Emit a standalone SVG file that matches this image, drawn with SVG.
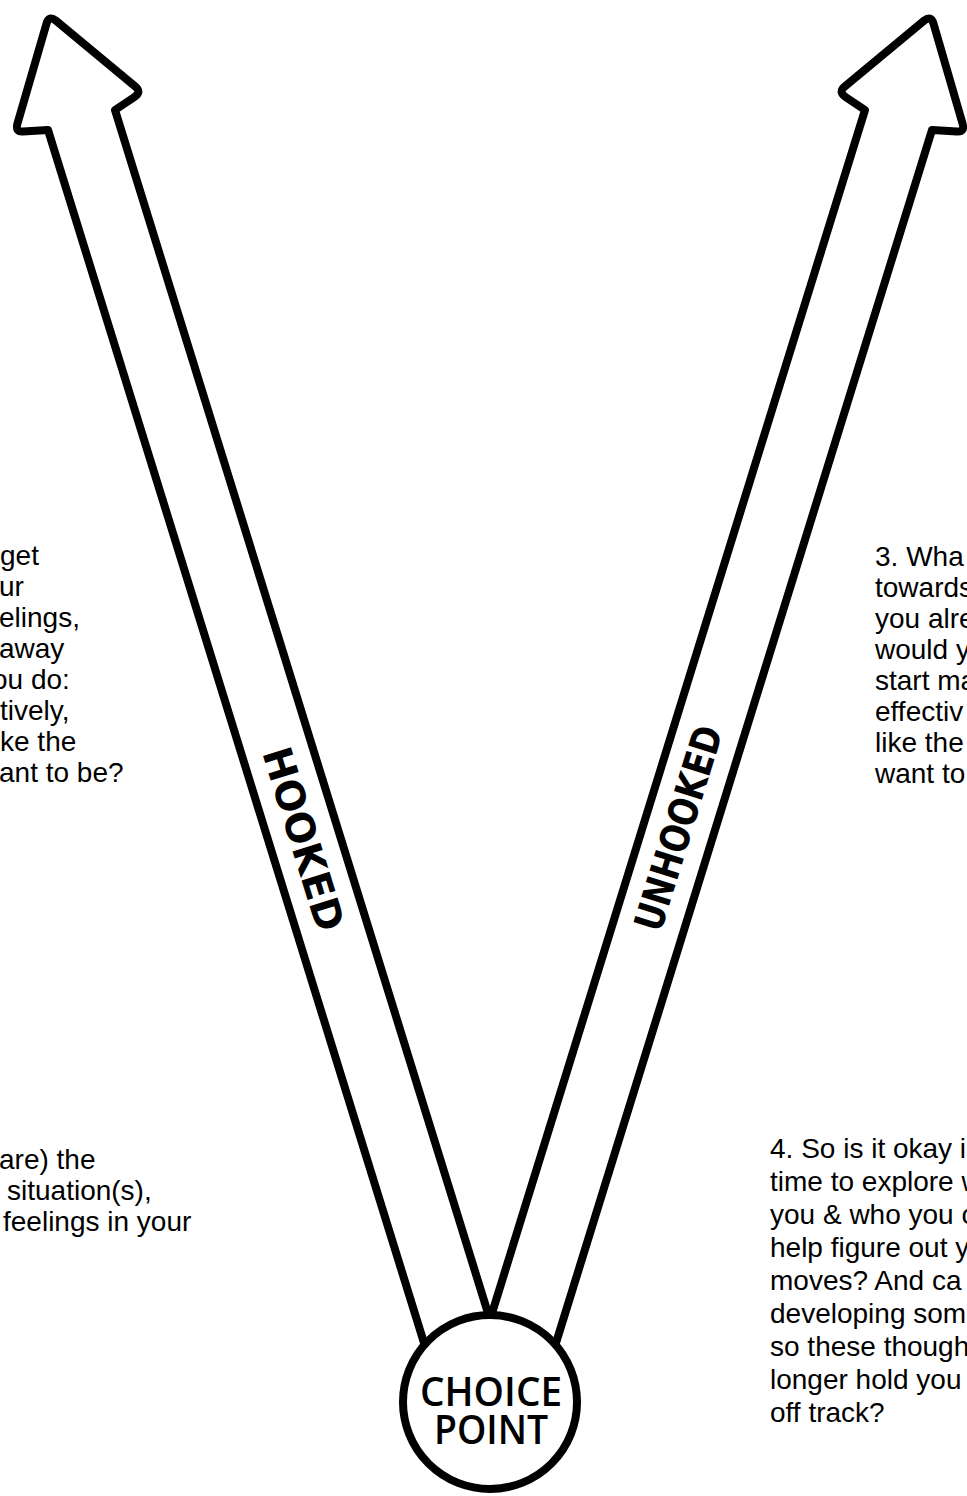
<svg xmlns="http://www.w3.org/2000/svg" width="967" height="1496" viewBox="0 0 967 1496">
<style>
.arrow{fill:#fff;stroke:#000;stroke-width:8;stroke-linejoin:round}
.body{font-family:"Liberation Sans",Arial,sans-serif;font-size:28px;fill:#000}
.lab{font-family:"DejaVu Sans",sans-serif;font-weight:bold;font-size:40px;fill:#000}
.cp{font-family:"Open Sans","Liberation Sans",sans-serif;font-weight:600;font-size:39px;fill:#000}
</style>
<defs>
<path id="arr" d="M48,130 L23,131.5 Q15,132 17.5,123.4 L46.5,23.6 Q49,15 55.9,20.7 L135.1,86.3 Q142,92 134.5,97 L115,110 L508.7,1380 L435.5,1380 Z"/>
</defs>
<rect width="967" height="1496" fill="#fff"/>
<g id="connectors">
<use id="hooked-arrow" href="#arr" class="arrow"/>
<use id="unhooked-arrow" href="#arr" class="arrow" transform="translate(980,0) scale(-1,1)"/>
<text class="lab" transform="translate(304,839) rotate(72.8)" x="0" y="14.5" text-anchor="middle" textLength="190" lengthAdjust="spacingAndGlyphs">HOOKED</text>
<text class="lab" transform="translate(678,828) rotate(-72.8)" x="0" y="14.5" text-anchor="middle" textLength="212" lengthAdjust="spacingAndGlyphs">UNHOOKED</text>
</g>
<g id="choice-point">
<circle cx="490" cy="1402" r="87" fill="#fff" stroke="#000" stroke-width="8"/>
<text class="cp" x="491" y="1406" text-anchor="middle" textLength="142" lengthAdjust="spacingAndGlyphs">CHOICE</text>
<text class="cp" x="491" y="1444" text-anchor="middle" textLength="114" lengthAdjust="spacingAndGlyphs">POINT</text>
</g>
<g id="text-top-left" class="body">
<text x="0" y="565">get</text>
<text x="-1" y="596">ur</text>
<text x="-1" y="627">elings,</text>
<text x="-1" y="658">away</text>
<text x="-8" y="689">ou do:</text>
<text x="0" y="720">tively,</text>
<text x="0" y="751">ke the</text>
<text x="-1" y="782">ant to be?</text>
</g>
<g id="text-top-right" class="body">
<text x="875" y="566">3. Wha</text>
<text x="875" y="597">towards</text>
<text x="875" y="628">you alre</text>
<text x="875" y="659">would y</text>
<text x="875" y="690">start ma</text>
<text x="875" y="721">effectiv</text>
<text x="875" y="752">like the</text>
<text x="875" y="783">want to</text>
</g>
<g id="text-bottom-left" class="body">
<text x="-1" y="1169">are) the</text>
<text x="7" y="1200">situation(s),</text>
<text x="3" y="1231">feelings in your</text>
</g>
<g id="text-bottom-right" class="body">
<text x="770" y="1158">4. So is it okay i</text>
<text x="770" y="1191">time to explore w</text>
<text x="770" y="1224">you &amp; who you c</text>
<text x="770" y="1257">help figure out y</text>
<text x="770" y="1290">moves? And ca</text>
<text x="770" y="1323">developing som</text>
<text x="770" y="1356">so these though</text>
<text x="770" y="1389">longer hold you</text>
<text x="770" y="1422">off track?</text>
</g>
</svg>
